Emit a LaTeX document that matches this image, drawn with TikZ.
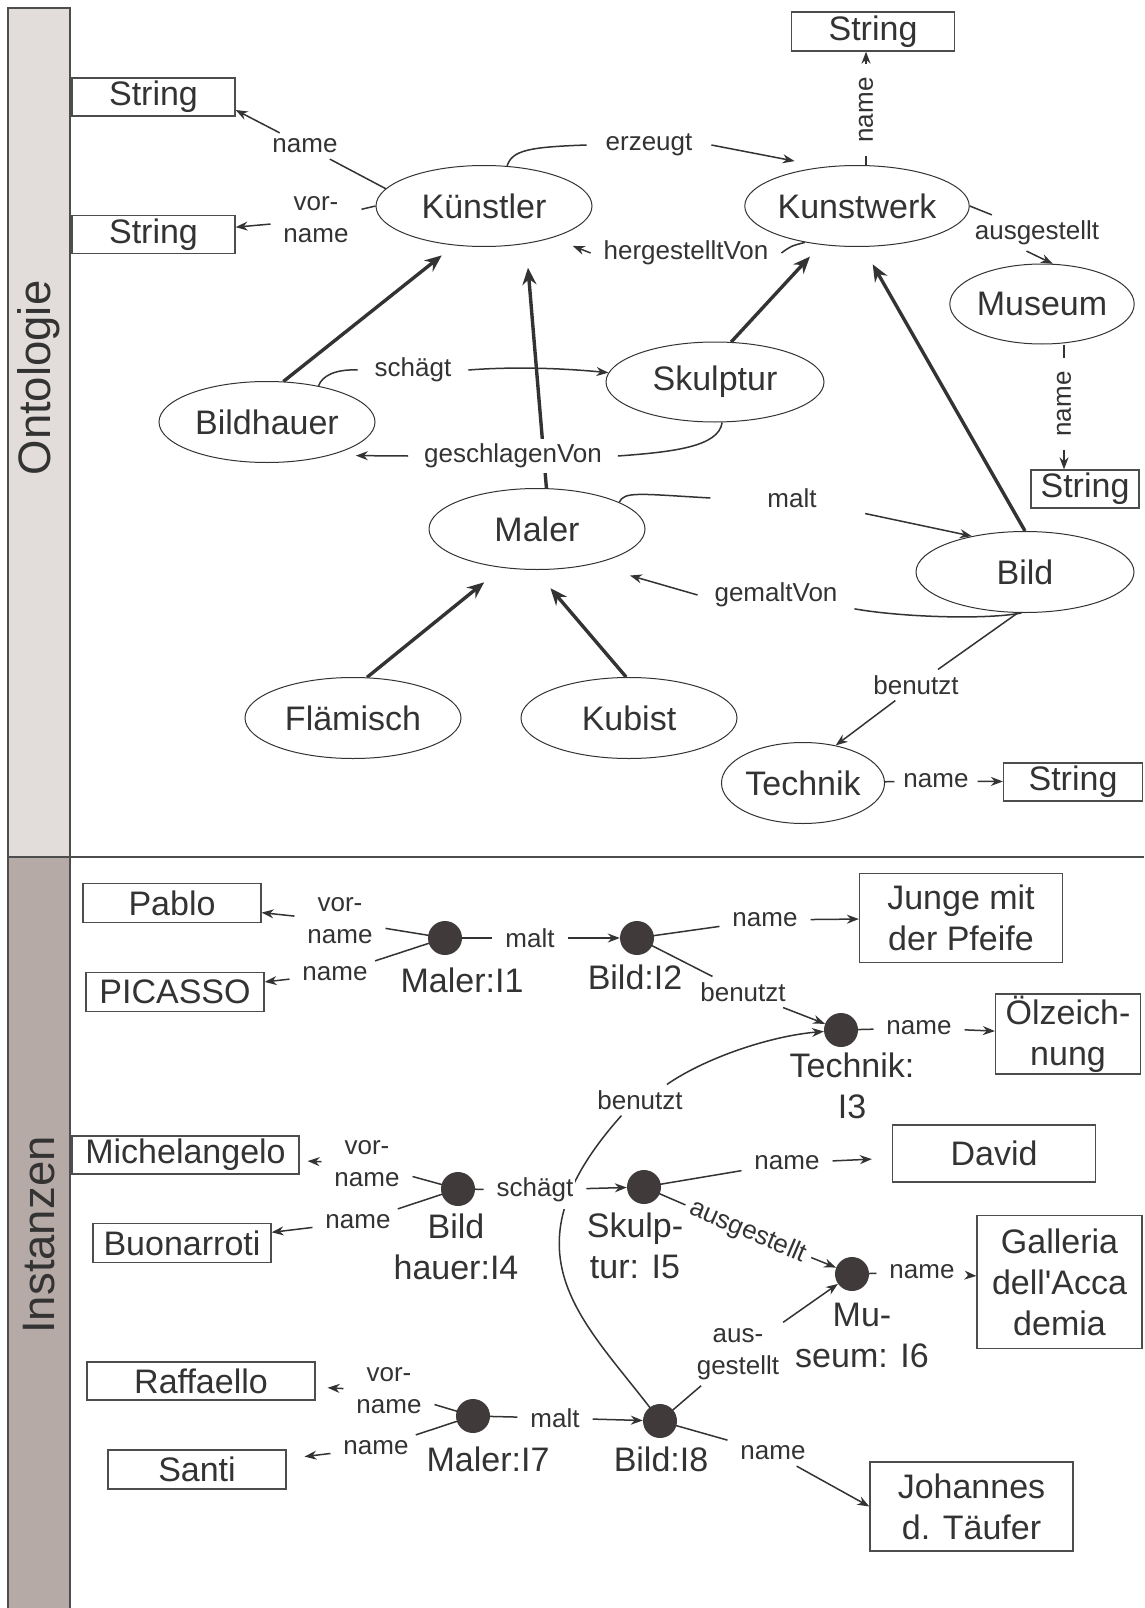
\documentclass[tikz,border=0pt]{standalone}
\usepackage{fontspec}
\setmainfont{Liberation Sans}[Ligatures=TeXOff]
\usetikzlibrary{shapes.geometric,arrows.meta}
\definecolor{ink}{HTML}{333333}
\definecolor{frame}{HTML}{4D4D4D}
\definecolor{dotc}{HTML}{403A3A}
\definecolor{sidetop}{HTML}{E2DDDA}
\definecolor{sidebot}{HTML}{B5AAA5}
\pgfdeclarelayer{bg}
\pgfdeclarelayer{edges}
\pgfsetlayers{bg,edges,main}

\begin{document}
\begin{tikzpicture}[x=1pt,y=-1pt,
  bigtxt/.style={text=ink,font=\fontsize{34}{41}\selectfont},
  cls/.style={ellipse,draw=ink,line width=1pt,fill=white,inner sep=0pt,bigtxt},
  lit/.style={rectangle,draw=frame,line width=1.3pt,fill=white,inner sep=0pt,bigtxt,align=center},
  inst/.style={circle,fill=dotc,minimum size=34pt,inner sep=0pt},
  captxt/.style={bigtxt,align=center,inner sep=0pt},
  lbl/.style={text=ink,font=\fontsize{26}{32}\selectfont,fill=white,inner sep=2pt,
              outer xsep=11pt,outer ysep=4pt,align=center},
  sidetxt/.style={text=ink,font=\fontsize{45.5}{50}\selectfont,rotate=90},
  conn/.style={draw=ink,line width=1.5pt},
  arr/.style={conn,-{Stealth[length=12pt,width=9pt]}},
  isa/.style={draw=ink,line width=3.4pt,-{Stealth[length=17pt,width=14pt]}},
]
\useasboundingbox (0,0) rectangle (1144,1608);
\begin{pgfonlayer}{bg}
  \fill[white] (0,0) rectangle (1144,1608);
\end{pgfonlayer}

% ---------- side bar and divider ----------
\fill[sidetop] (8,8) rectangle (70,857);
\fill[sidebot] (8,857) rectangle (70,1614);
\draw[frame,line width=1.5pt] (8,1614) -- (8,8) -- (70,8) -- (70,1614);
\draw[frame,line width=1.5pt] (8,857) -- (1144,857);
\node[sidetxt] (ont) at (39,378) {Ontologie};
\node[sidetxt] (ins) at (39,1235) {Instanzen};

% ---------- ontology: classes ----------
\node[cls,minimum width=216pt,minimum height=81pt] (kue) at (484,206) {Künstler};
\node[cls,minimum width=218pt,minimum height=81pt] (kw)  at (857,206) {Kunstwerk};
\node[cls,minimum width=184pt,minimum height=80pt] (mu)  at (1042,304) {Museum};
\node[cls,minimum width=218pt,minimum height=80pt] (sk)  at (715,382) {Skulptur};
\node[cls,minimum width=216pt,minimum height=81pt] (bh)  at (267,422) {Bildhauer};
\node[cls,minimum width=216pt,minimum height=81pt] (ma)  at (537,529) {Maler};
\node[cls,minimum width=218pt,minimum height=81pt] (bi)  at (1025,572) {Bild};
\node[cls,minimum width=216pt,minimum height=81pt] (fl)  at (353,718) {Flämisch};
\node[cls,minimum width=216pt,minimum height=81pt] (ku)  at (629,718) {Kubist};
\node[cls,minimum width=142pt,minimum height=81pt] (te)  at (803,783) {Technik};

% ---------- ontology: literal types ----------
\node[lit,minimum width=163pt,minimum height=38pt] (s1) at (153.5,97) {String};
\node[lit,minimum width=163pt,minimum height=38pt] (s2) at (153.5,234.5) {String};
\node[lit,minimum width=163pt,minimum height=39pt] (s3) at (873,31.5) {String};
\node[lit,minimum width=108pt,minimum height=38pt] (s4) at (1085,489) {String};
\node[lit,minimum width=139pt,minimum height=38pt] (s5) at (1073,782) {String};

% ---------- ontology: property labels ----------
\node[lbl] (nm1) at (305,146) {name};
\node[lbl] (vn1) at (316,220) {vor-\\name};
\node[lbl,outer xsep=17pt] (ez) at (649,145) {erzeugt};
\node[lbl] (hv) at (686,253) {hergestelltVon};
\node[lbl] (au) at (1037,233) {ausgestellt};
\node[lbl,rotate=90] (nk) at (866,110) {name};
\node[lbl,rotate=90] (nm4) at (1064,404) {name};
\node[lbl,outer xsep=15pt] (sc) at (413,370) {schägt};
\node[lbl,outer xsep=14pt,inner ysep=5pt] (gv) at (513,456) {geschlagenVon};
\node[lbl,outer xsep=55pt] (mt) at (792,498) {malt};
\node[lbl,outer xsep=15pt] (gm) at (776,595) {gemaltVon};
\node[lbl] (bn) at (916,685) {benutzt};
\node[lbl,outer xsep=7pt] (tn) at (936,781) {name};

% ---------- instances ----------
\node[inst] (i1) at (445,938) {};
\node[inst] (i2) at (637,938) {};
\node[inst] (i3) at (841,1030) {};
\node[inst] (i4) at (458,1189) {};
\node[inst] (i5) at (644,1187) {};
\node[inst] (i6) at (852,1274) {};
\node[inst] (i7) at (473,1416) {};
\node[inst] (i8) at (660,1421) {};

\node[lit,minimum width=178pt,minimum height=39pt] (pablo)   at (172,903) {Pablo};
\node[lit,minimum width=178pt,minimum height=39pt] (picasso) at (175,992) {PICASSO};
\node[lit,minimum width=203pt,minimum height=89pt] (junge)   at (961,918) {Junge mit\\der Pfeife};
\node[lit,minimum width=145pt,minimum height=80pt] (oel)     at (1068,1034) {Ölzeich-\\nung};
\node[lit,minimum width=227pt,minimum height=38pt] (mich)    at (185.5,1155) {Michelangelo};
\node[lit,minimum width=178pt,minimum height=39pt] (buon)    at (182,1243) {Buonarroti};
\node[lit,minimum width=203pt,minimum height=57pt] (david)   at (994,1153.5) {David};
\node[lit,minimum width=165pt,minimum height=133pt] (gal)    at (1059.5,1282) {Galleria\\dell'Acca\\demia};
\node[lit,minimum width=228pt,minimum height=38pt] (raff)    at (201,1381) {Raffaello};
\node[lit,minimum width=178pt,minimum height=39pt] (santi)   at (197,1469.5) {Santi};
\node[lit,minimum width=203pt,minimum height=89pt] (joh)     at (971.5,1506.5) {Johannes\\d. Täufer};

% instance property labels
\node[lbl] (vn2) at (340,921) {vor-\\name};
\node[lbl] (nm5) at (335,974) {name};
\node[lbl] (ml1) at (530,938) {malt};
\node[lbl] (nm6) at (765,920) {name};
\node[lbl] (bn2) at (743,992) {benutzt};
\node[lbl] (nm7) at (919,1028) {name};
\node[lbl] (bn3) at (640,1100) {benutzt};
\node[lbl] (vn3) at (367,1164) {vor-\\name};
\node[lbl] (nm8) at (358,1222) {name};
\node[lbl,inner ysep=7pt] (sc2) at (535,1190) {schägt};
\node[lbl] (nm9) at (787,1163) {name};
\node[lbl,rotate=-23,outer xsep=4pt] (au2) at (748,1232) {ausgestellt};
\node[lbl] (au3) at (738,1354) {aus-\\gestellt};
\node[lbl] (nm10) at (922,1272) {name};
\node[lbl] (vn4) at (389,1391) {vor-\\name};
\node[lbl] (nm11) at (376,1448) {name};
\node[lbl] (ml2) at (555,1418) {malt};
\node[lbl] (nm12) at (773,1453) {name};

% instance captions
\node[captxt] (c1) at (462,980) {Maler:I1};
\node[captxt] (c2) at (635,977) {Bild:I2};
\node[captxt] (c3) at (852,1086) {Technik:\\I3};
\node[captxt] (c4) at (456,1247) {Bild\\hauer:I4};
\node[captxt] (c5) at (635,1246) {Skulp-\\tur: I5};
\node[captxt] (c6) at (862,1335) {Mu-\\seum: I6};
\node[captxt] (c7) at (488,1459) {Maler:I7};
\node[captxt] (c8) at (661,1459) {Bild:I8};

% ---------- connectors ----------
\begin{pgfonlayer}{edges}
  % ontology properties
  \draw[conn] (kue.170) -- (nm1);
  \draw[arr] (nm1) -- (s1.-9);
  \draw[conn] (kue.west) -- (vn1);
  \draw[arr] (vn1) -- (s2);
  \draw[conn] (kue.60) .. controls (512,150) and (530,147) .. (ez.west);
  \draw[arr,shorten >=30pt] (ez.east) -- (kw.130);
  \draw[conn] (kw.-145) .. controls (791,246) .. (hv.east);
  \draw[arr,shorten >=22pt] (hv.west) -- (kue.-25);
  \draw[conn] (kw.east) -- (au);
  \draw[arr] (au.-120) -- (mu.75);
  \draw[conn] (kw.north -| nk) -- (nk);
  \draw[arr] (nk) -- (s3.south -| nk);
  \draw[conn] (mu.south -| nm4) -- (nm4);
  \draw[arr] (nm4) -- (s4.north -| nm4);
  \draw[conn] (bh.35) .. controls (322,376) and (335,369) .. (sc.west);
  \draw[arr] (sc.east) .. controls (520,366) and (570,369) .. (sk.175);
  \draw[conn] (sk.-80) .. controls (719,447) and (672,452) .. (gv.east);
  \draw[arr,shorten >=26pt] (gv.west) -- (bh.-28);
  \draw[conn] (ma.18) .. controls (624,491) and (640,494) .. (mt.west);
  \draw[arr] (mt.-12) -- (bi.146);
  \draw[conn] (bi.-95) .. controls (985,620) and (900,617) .. (gm.-10);
  \draw[arr,shorten >=40pt] (gm.west) -- (ma.-33);
  \draw[conn] (bi.-100) -- (bn);
  \draw[arr] (bn) -- (te.49);
  \draw[conn] (te) -- (tn);
  \draw[arr] (tn) -- (s5);
  % ontology subclass links
  \draw[isa,shorten >=16pt] (bh.68) -- (kue.-127);
  \draw[isa,shorten >=24pt] (ma.77) -- (kue.-42);
  \draw[isa,shorten >=16pt] (sk.68) -- (kw.-133);
  \draw[isa,shorten >=20pt] (bi.north) -- (kw.-82);
  \draw[isa,shorten >=23pt] (fl.71) -- (ma.-132);
  \draw[isa,shorten >=24pt] (ku.94) -- (ma.-93);
  % instance links
  \draw[conn] (i1.center) -- (vn2);
  \draw[arr] (vn2) -- (pablo);
  \draw[conn] (i1.center) -- (nm5);
  \draw[arr] (nm5) -- (picasso);
  \draw[conn] (i1.center) -- (ml1);
  \draw[arr] (ml1) -- (i2);
  \draw[conn] (i2.center) -- (nm6);
  \draw[arr] (nm6) -- (junge);
  \draw[conn] (i2.center) -- (bn2);
  \draw[arr] (bn2) -- (i3);
  \draw[conn] (i3.center) -- (nm7);
  \draw[arr] (nm7) -- (oel);
  \draw[conn] (i8.center) .. controls (589,1324) and (495,1257) .. (bn3.-140);
  \draw[arr] (bn3.30) .. controls (705,1058) and (770,1036) .. (i3);
  \draw[conn] (i4.center) -- (vn3);
  \draw[arr,shorten >=8pt] (vn3) -- (mich);
  \draw[conn] (i4.center) -- (nm8);
  \draw[arr] (nm8) -- (buon);
  \draw[conn] (i4.center) -- (sc2);
  \draw[arr] (sc2) -- (i5);
  \draw[conn] (i5.center) -- (nm9);
  \draw[arr,shorten >=20pt] (nm9) -- (david);
  \draw[conn] (i5.center) -- (au2);
  \draw[arr] (au2) -- (i6);
  \draw[conn] (i8.center) -- (au3);
  \draw[arr] (au3) -- (i6);
  \draw[conn] (i6.center) -- (nm10);
  \draw[arr] (nm10) -- (gal);
  \draw[conn] (i7.center) -- (vn4);
  \draw[arr,shorten >=12pt] (vn4) -- (raff);
  \draw[conn] (i7.center) -- (nm11);
  \draw[arr,shorten >=18pt] (nm11) -- (santi);
  \draw[conn] (i7.center) -- (ml2);
  \draw[arr] (ml2) -- (i8);
  \draw[conn] (i8.center) -- (nm12);
  \draw[arr] (nm12) -- (joh.west);
\end{pgfonlayer}
\end{tikzpicture}
\end{document}
